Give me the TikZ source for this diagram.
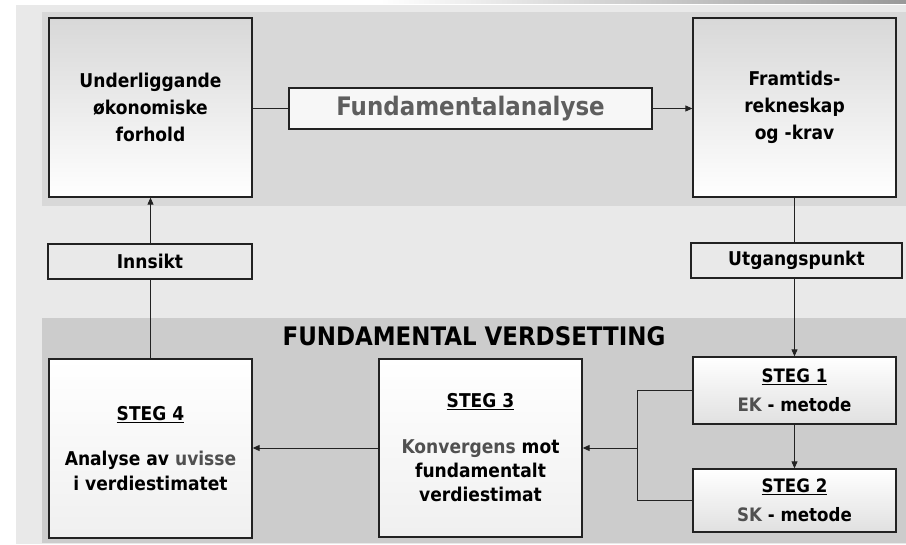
\documentclass[tikz,border=0pt]{standalone}
\usepackage{fontspec}
\setmainfont{DejaVu Sans Condensed}
\usetikzlibrary{arrows.meta}
\definecolor{bgouter}{HTML}{E9E9E9}
\definecolor{bgupper}{HTML}{D8D8D8}
\definecolor{bglower}{HTML}{CCCCCC}
\definecolor{edge}{HTML}{222222}
\definecolor{softtext}{HTML}{505050}
\definecolor{headtext}{HTML}{5E5E5E}
\tikzset{
  box/.style={draw=edge, line width=1.3pt, align=center, inner sep=0pt,
    font=\fontsize{19}{27}\selectfont\bfseries},
  tallbox/.style={box, minimum width=203pt, minimum height=179pt},
  topbox/.style={tallbox, top color=bgupper, bottom color=white},
  stepbox/.style={tallbox, top color=white, bottom color=white!94!black},
  smallstep/.style={box, minimum width=203pt, top color=white, bottom color=white!88!black,
    font=\fontsize{18.5}{29}\selectfont\bfseries},
  tagbox/.style={box, fill=bgouter, minimum height=35pt},
  link/.style={draw=edge, line width=0.9pt},
  arr/.style={link, -{Triangle[length=7pt,width=6pt]}},
}
\newcommand{\soft}[1]{\textcolor{softtext}{#1}}
\begin{document}
\begin{tikzpicture}[x=1pt, y=-1pt]
  \useasboundingbox (0,0) rectangle (906,545);
  % backgrounds
  \fill[white] (0,0) rectangle (906,545);
  \shade[left color=white, right color=black!40] (380,0) rectangle (906,4);
  \fill[bgouter] (16,5) rectangle (906,544);
  \fill[bgupper] (42,12) rectangle (906,206);
  \fill[bglower] (42,318) rectangle (906,543);

  % upper row
  \node[topbox] (lb) at (150.5,107.5) {Underliggande\\økonomiske\\forhold};
  \node[topbox] (rb) at (794.5,107.5) {Framtids-\\rekneskap\\og -krav};
  \node[box, fill=white!97!black, minimum width=363pt, minimum height=41pt,
        text=headtext, font=\fontsize{25.5}{30}\selectfont\bfseries] (fa) at (470.5,108.5) {Fundamentalanalyse};

  % middle labels
  \node[tagbox, minimum width=204pt] (inn) at (150,261.5) {Innsikt};
  \node[tagbox, minimum width=211pt] (utg) at (796.5,260.5) {Utgangspunkt};

  % lower section
  \node[font=\fontsize{25.5}{30}\selectfont\bfseries] (title) at (474,336) {FUNDAMENTAL VERDSETTING};
  \node[stepbox] (s4) at (150.5,448.5)
    {\underline{STEG 4}\\[18pt]Analyse av \soft{uvisse}\\[-2pt]i verdiestimatet};
  \node[stepbox, minimum height=178pt] (s3) at (480.5,448)
    {\underline{STEG 3}\\[19pt]\soft{Konvergens} mot\\[-3pt]fundamentalt\\[-3pt]verdiestimat};
  \node[smallstep, minimum height=67pt] (s1) at (794.5,390.5) {\underline{STEG 1}\\\soft{EK} - metode};
  \node[smallstep, minimum height=63pt] (s2) at (794.5,500.5) {\underline{STEG 2}\\\soft{SK} - metode};

  % connectors
  \draw[link] (lb.east |- fa.west) -- (fa.west);
  \draw[arr] (fa.east) -- (rb.west |- fa.east);
  \draw[arr] (inn.north -| lb.south) -- (lb.south);
  \draw[link] (s4.north) -- (s4.north |- inn.south);
  \draw[link] (rb.south) -- (rb.south |- utg.north);
  \draw[arr] (rb.south |- utg.south) -- (s1.north);
  \draw[arr] (s1.south) -- (s2.north);
  \coordinate (fork) at (637,448);
  \draw[link] (s1.west) -- (fork |- s1.west) -- (fork |- s2.west) -- (s2.west);
  \draw[arr] (fork) -- (s3.east);
  \draw[arr] (s3.west) -- (s4.east |- s3.west);
\end{tikzpicture}
\end{document}
